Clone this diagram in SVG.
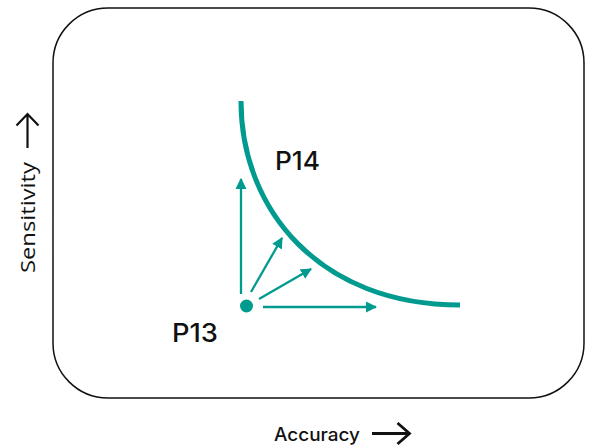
<svg xmlns="http://www.w3.org/2000/svg" width="594" height="448" viewBox="0 0 594 448">
<style>
.lbl{font-family:Inter,"Noto Sans",sans-serif;font-weight:500;fill:#111}
.ax{font-family:"Open Sans","Noto Sans",sans-serif;font-size:20px;font-weight:500;fill:#111}
.arr{stroke:#009a8e;stroke-width:2.3;fill:none}
.sym{stroke:#111;fill:none;stroke-linecap:butt;stroke-linejoin:miter}
</style>
<defs>
<marker id="ah" viewBox="0 0 10 10" refX="9" refY="5" markerWidth="4.8" markerHeight="4.8" markerUnits="strokeWidth" orient="auto">
<path d="M0,0 L10,5 L0,10 z" fill="#009a8e"/>
</marker>
</defs>
<g id="frame">
<rect x="53" y="8" width="531" height="390" rx="55" ry="55" fill="none" stroke="#111" stroke-width="1.5"/>
</g>
<g id="curve-P14">
<path d="M241,101 C241,210 320,305 460,305" fill="none" stroke="#009a8e" stroke-width="5"/>
<text class="lbl" x="275" y="170" font-size="25" textLength="45" lengthAdjust="spacingAndGlyphs">P14</text>
</g>
<g id="point-P13">
<circle cx="246.5" cy="306" r="6.5" fill="#009a8e"/>
<text class="lbl" x="172" y="342" font-size="25" textLength="46" lengthAdjust="spacingAndGlyphs">P13</text>
</g>
<g id="connectors">
<line class="arr" x1="241" y1="294" x2="241" y2="179" marker-end="url(#ah)"/>
<line class="arr" x1="251" y1="292" x2="282" y2="238" marker-end="url(#ah)"/>
<line class="arr" x1="259" y1="299" x2="311" y2="269" marker-end="url(#ah)"/>
<line class="arr" x1="263" y1="307" x2="376" y2="307" marker-end="url(#ah)"/>
</g>
<g id="axis-labels">
<text class="lbl" x="274" y="441" font-size="18" font-weight="600" textLength="86" lengthAdjust="spacingAndGlyphs">Accuracy</text>
<path class="sym" stroke-width="2.8" d="M372,433.5 H409 M397.5,423 L409.5,433.5 L397.5,444"/>
<text class="ax" transform="translate(35,273) rotate(-90)" textLength="111" lengthAdjust="spacingAndGlyphs">Sensitivity</text>
<path class="sym" stroke-width="2.2" d="M27.5,148 V114 M16.5,125.5 L27.5,114 L38.5,125.5"/>
</g>
</svg>
